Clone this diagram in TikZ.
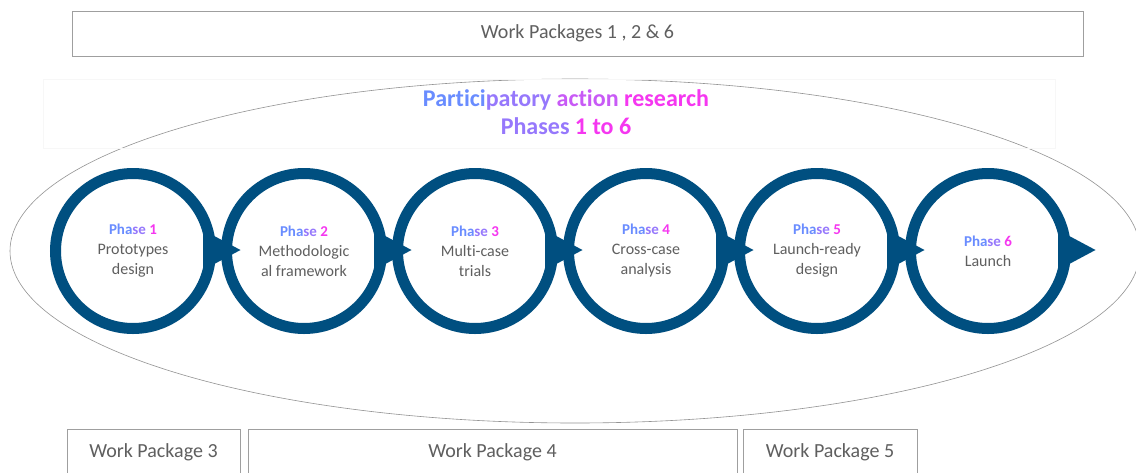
\documentclass[tikz,border=0pt]{standalone}
\usepackage{fontspec}
\setmainfont{Carlito}[Ligatures=NoCommon]
\usetikzlibrary{positioning}

\definecolor{ringblue}{RGB}{0,79,128}
\definecolor{wptext}{RGB}{95,95,95}
\definecolor{gradA}{RGB}{105,140,255}
\definecolor{gradB}{RGB}{150,120,252}
\definecolor{gradC}{RGB}{200,90,246}
\definecolor{gradD}{RGB}{245,55,240}

\newcommand{\phaselabel}[1]{{\fontsize{15}{20}\selectfont\bfseries\color{gradA}Pha\color{gradB}se \color{gradD}#1}}

\tikzset{
	phase/.style={circle, draw=ringblue, line width=11pt, minimum size=155pt, inner sep=0pt, outer sep=0pt, align=center, text=wptext, font=\fontsize{16}{20}\selectfont},
	phasetip/.style={fill=ringblue},
	wpbox/.style={draw=gray!75, line width=0.8pt, text=wptext, font=\fontsize{20}{24}\selectfont, inner sep=0pt, outer sep=0pt}
}

\begin{document}
\begin{tikzpicture}[x=1pt, y=-1pt]
	\clip (0,0) rectangle (1136,472);
	\fill[white] (0,0) rectangle (1136,472);

	% outer ellipse and title
	\draw[gray!85, line width=0.6pt] (575,251) ellipse [x radius=565pt, y radius=172pt];
	\draw[gray!6] (43,79) rectangle (1055,148);
	\node[font=\fontsize{24}{28}\selectfont\bfseries, align=center] (title) at (566,112)
		{\color{gradA}Partici\color{gradB}patory \color{gradC}action \color{gradD}research\\
		 \color{gradB}Phases \color{gradD}1 to 6};

	% phases
	\node[phase] (p1) at (133,251) {\phaselabel{1}\\Prototypes\\design};
	\node[phase, right=16pt of p1] (p2) {\phaselabel{2}\\Methodologic\\al framework};
	\node[phase, right=16pt of p2] (p3) {\phaselabel{3}\\Multi-case\\trials};
	\node[phase, right=16pt of p3] (p4) {\phaselabel{4}\\Cross-case\\analysis};
	\node[phase, right=16pt of p4] (p5) {\phaselabel{5}\\Launch-ready\\design};
	\node[phase, right=16pt of p5] (p6) {\phaselabel{6}\\Launch};

	\fill[phasetip] ([shift={(-7.5,-21)}]p1.east) -- ([shift={(30,-1)}]p1.east) -- ([shift={(-7.5,19)}]p1.east) -- cycle;
	\fill[phasetip] ([shift={(-7.5,-21)}]p2.east) -- ([shift={(30,-1)}]p2.east) -- ([shift={(-7.5,19)}]p2.east) -- cycle;
	\fill[phasetip] ([shift={(-7.5,-21)}]p3.east) -- ([shift={(30,-1)}]p3.east) -- ([shift={(-7.5,19)}]p3.east) -- cycle;
	\fill[phasetip] ([shift={(-7.5,-21)}]p4.east) -- ([shift={(30,-1)}]p4.east) -- ([shift={(-7.5,19)}]p4.east) -- cycle;
	\fill[phasetip] ([shift={(-7.5,-21)}]p5.east) -- ([shift={(30,-1)}]p5.east) -- ([shift={(-7.5,19)}]p5.east) -- cycle;
	\fill[phasetip] ([shift={(-7.5,-21)}]p6.east) -- ([shift={(30,-1)}]p6.east) -- ([shift={(-7.5,19)}]p6.east) -- cycle;

	% work packages
	\node[wpbox, minimum width=1011pt, minimum height=45pt] (wp126) at (577.5,33.5) {Work Packages 1 , 2 \& 6};
	\node[wpbox, minimum width=173pt, minimum height=46pt] (wp3) at (153.5,452) {Work Package 3};
	\node[wpbox, minimum width=489pt, minimum height=46pt] (wp4) at (492.5,452) {Work Package 4};
	\node[wpbox, minimum width=174pt, minimum height=46pt] (wp5) at (830,452) {Work Package 5};
\end{tikzpicture}
\end{document}
